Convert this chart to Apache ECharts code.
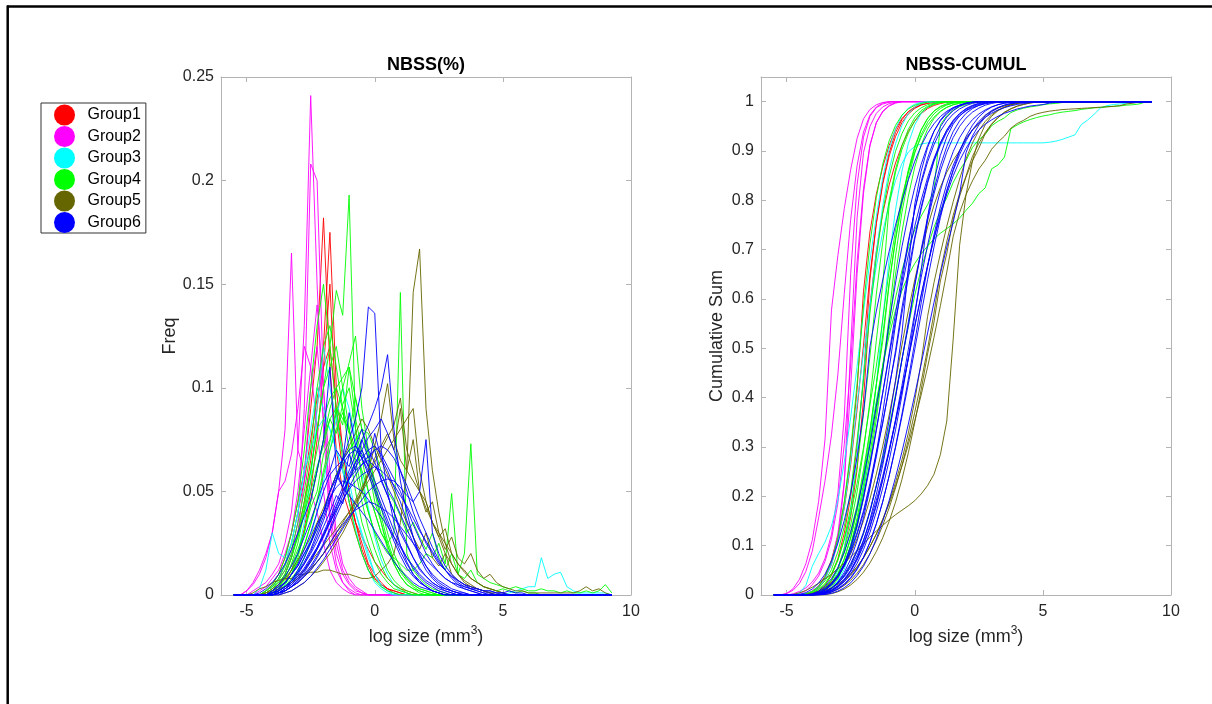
<!DOCTYPE html>
<html>
<head>
<meta charset="utf-8">
<script src="https://cdn.jsdelivr.net/npm/echarts@6/dist/echarts.min.js"></script>
<style>
html,body{margin:0;padding:0;background:#fff;}
#chart{width:1212px;height:704px;}
</style>
</head>
<body>
<div id="chart"></div>
<script>
// ---- DATA ----
// size bins (log size, mm^3); bins after a curve's listed values hold zero frequency
const xGrid = [-5.5,-5.25,-5,-4.75,-4.5,-4.25,-4,-3.75,-3.5,-3.25,-3,-2.75,-2.5,-2.25,-2,-1.75,-1.5,-1.25,-1,-0.75,-0.5,-0.25,0,0.25,0.5,0.75,1,1.25,1.5,1.75,2,2.25,2.5,2.75,3,3.25,3.5,3.75,4,4.25,4.5,4.75,5,5.25,5.5,5.75,6,6.25,6.5,6.75,7,7.25,7.5,7.75,8,8.25,8.5,8.75,9,9.25];

const groupNames = ['Group1','Group2','Group3','Group4','Group5','Group6'];

const group1Freq = [
  [0,0,0,0,0,0.002,0.005,0.01,0.018,0.03,0.045,0.06,0.09,0.12,0.182,0.11,0.07,0.05,0.04,0.03,0.02,0.012,0.008,0.005,0.003,0.002,0.001],
  [0,0,0,0,0,0,0.002,0.005,0.01,0.018,0.03,0.045,0.065,0.09,0.12,0.175,0.1,0.07,0.05,0.035,0.025,0.015,0.01,0.006,0.003,0.002,0.001],
  [0,0,0,0,0,0.002,0.004,0.008,0.015,0.025,0.04,0.055,0.075,0.095,0.11,0.12,0.09,0.07,0.05,0.035,0.022,0.014,0.008,0.005,0.003,0.001],
  [0,0,0,0,0,0,0.001,0.003,0.006,0.012,0.02,0.032,0.05,0.075,0.11,0.15,0.085,0.06,0.045,0.035,0.028,0.022,0.016,0.012,0.008,0.005,0.003,0.002,0.001]
];

const group2Freq = [
  [0,0,0,0.002,0.004,0.006,0.01,0.015,0.025,0.04,0.07,0.13,0.241,0.15,0.08,0.035,0.015,0.006,0.003,0.001],
  [0,0,0,0,0,0.002,0.004,0.008,0.012,0.02,0.035,0.09,0.208,0.2,0.1,0.04,0.02,0.01,0.005,0.002,0.001],
  [0,0,0.002,0.006,0.012,0.02,0.03,0.05,0.08,0.165,0.07,0.06,0.05,0.04,0.025,0.012,0.006,0.003,0.001],
  [0,0,0.002,0.005,0.01,0.018,0.03,0.05,0.055,0.068,0.09,0.12,0.11,0.08,0.05,0.025,0.012,0.006,0.002],
  [0,0,0,0,0.002,0.004,0.008,0.012,0.02,0.03,0.05,0.08,0.11,0.14,0.1,0.06,0.03,0.015,0.008,0.004,0.002],
  [0,0,0,0,0,0,0.002,0.005,0.01,0.018,0.03,0.055,0.1,0.12,0.085,0.05,0.025,0.012,0.006,0.003,0.001]
];

const group3Freq = [
  [0,0,0,0,0,0.002,0.004,0.008,0.015,0.025,0.04,0.06,0.08,0.1,0.09,0.08,0.07,0.06,0.05,0.04,0.03,0.02,0.01,0.004,0.002,0,0,0,0,0,0,0,0,0,0,0,0,0,0,0,0,0,0,0.001,0.002,0.003,0.004,0.004,0.018,0.008,0.01,0.011,0.004,0.002,0.001,0.001,0.001,0.001,0.001],
  [0,0,0,0,0,0,0,0.002,0.005,0.01,0.02,0.035,0.055,0.09,0.12,0.1,0.085,0.07,0.055,0.04,0.028,0.018,0.01,0.005,0.002,0.001],
  [0,0,0,0,0.003,0.012,0.03,0.02,0.018,0.025,0.04,0.06,0.07,0.08,0.085,0.08,0.07,0.06,0.045,0.032,0.02,0.012,0.006,0.003,0.001],
  [0,0,0,0,0,0,0,0.001,0.003,0.006,0.011,0.018,0.028,0.04,0.055,0.07,0.085,0.1,0.09,0.075,0.058,0.042,0.028,0.017,0.01,0.005,0.002,0.001]
];

const group4Freq = [
  [0,0,0,0,0,0,0.002,0.005,0.01,0.018,0.03,0.045,0.06,0.08,0.1,0.12,0.147,0.135,0.193,0.08,0.055,0.04,0.03,0.02,0.012,0.007,0.004,0.002,0.001],
  [0,0,0,0,0,0,0,0.002,0.005,0.01,0.018,0.03,0.045,0.06,0.075,0.085,0.09,0.085,0.08,0.07,0.06,0.05,0.04,0.03,0.025,0.03,0.146,0.02,0.012,0.008,0.005,0.003,0.002,0.001],
  [0,0,0,0,0,0,0.002,0.004,0.008,0.015,0.025,0.04,0.055,0.07,0.085,0.095,0.1,0.09,0.08,0.065,0.05,0.04,0.03,0.025,0.02,0.018,0.015,0.012,0.012,0.015,0.02,0.018,0.025,0.015,0.049,0.01,0.02,0.073,0.01,0.008,0.006,0.005,0.004,0.003,0.004,0.003,0.002,0.002,0.003,0.002,0.002,0.001,0.002,0.001,0.001,0.002,0.001,0.002,0.005,0.001],
  [0,0,0,0,0,0.002,0.004,0.008,0.014,0.022,0.035,0.05,0.07,0.1,0.12,0.13,0.11,0.09,0.07,0.05,0.035,0.025,0.016,0.01,0.006,0.003,0.002,0.001],
  [0,0,0,0,0,0,0.002,0.004,0.007,0.012,0.02,0.03,0.045,0.06,0.075,0.09,0.1,0.105,0.11,0.095,0.08,0.065,0.05,0.035,0.024,0.015,0.009,0.005,0.003,0.002,0.001],
  [0,0,0,0,0,0.002,0.005,0.01,0.018,0.03,0.045,0.07,0.1,0.13,0.15,0.12,0.09,0.065,0.045,0.03,0.02,0.012,0.007,0.004,0.002,0.001],
  [0,0,0,0,0,0,0,0.002,0.004,0.008,0.012,0.018,0.025,0.032,0.04,0.05,0.058,0.065,0.07,0.075,0.08,0.078,0.07,0.06,0.05,0.045,0.038,0.03,0.035,0.028,0.022,0.03,0.018,0.012,0.02,0.01,0.008,0.012,0.006,0.004,0.003,0.002,0.003,0.002,0.001,0.002,0.001,0.001],
  [0,0,0,0,0,0.001,0.003,0.006,0.01,0.018,0.028,0.042,0.06,0.08,0.1,0.11,0.12,0.1,0.08,0.06,0.045,0.032,0.022,0.014,0.008,0.005,0.003,0.001],
  [0,0,0,0,0,0,0.001,0.003,0.006,0.01,0.016,0.024,0.034,0.045,0.058,0.07,0.08,0.088,0.078,0.095,0.08,0.068,0.055,0.042,0.03,0.02,0.013,0.008,0.005,0.003,0.002,0.001],
  [0,0,0,0,0,0,0.002,0.004,0.009,0.014,0.022,0.03,0.042,0.05,0.068,0.075,0.09,0.082,0.11,0.085,0.07,0.062,0.045,0.035,0.022,0.015,0.009,0.005,0.003,0.001],
  [0,0,0,0,0,0.001,0.003,0.007,0.012,0.02,0.028,0.04,0.05,0.062,0.072,0.085,0.078,0.092,0.1,0.08,0.066,0.05,0.04,0.03,0.024,0.016,0.012,0.008,0.005,0.003,0.002,0.001],
  [0,0,0,0,0,0,0.001,0.003,0.006,0.01,0.016,0.024,0.034,0.046,0.06,0.074,0.088,0.1,0.112,0.125,0.09,0.07,0.052,0.038,0.026,0.017,0.011,0.007,0.004,0.002,0.001]
];

const group5Freq = [
  [0,0,0,0.001,0.003,0.004,0.006,0.007,0.008,0.008,0.01,0.01,0.011,0.011,0.012,0.012,0.011,0.01,0.01,0.009,0.008,0.008,0.009,0.012,0.015,0.02,0.035,0.06,0.146,0.167,0.09,0.06,0.04,0.025,0.015,0.01,0.006,0.004,0.003,0.002,0.001],
  [0,0,0,0,0,0.001,0.002,0.003,0.004,0.006,0.008,0.01,0.013,0.016,0.02,0.024,0.028,0.033,0.038,0.044,0.05,0.06,0.072,0.085,0.102,0.075,0.065,0.06,0.055,0.05,0.045,0.035,0.028,0.02,0.015,0.01,0.007,0.005,0.003,0.002,0.001,0.001],
  [0,0,0,0,0,0,0.001,0.002,0.004,0.006,0.009,0.012,0.016,0.02,0.024,0.028,0.032,0.036,0.04,0.045,0.05,0.055,0.06,0.065,0.07,0.075,0.08,0.085,0.09,0.06,0.045,0.035,0.03,0.022,0.028,0.018,0.015,0.02,0.012,0.008,0.01,0.006,0.004,0.003,0.002,0.002,0.001,0.001,0.001,0.001,0.001,0.001,0.001,0.001,0.002,0.004,0.002,0.003,0.001],
  [0,0,0,0,0,0.001,0.003,0.005,0.008,0.012,0.017,0.022,0.028,0.035,0.042,0.05,0.058,0.065,0.072,0.078,0.085,0.08,0.072,0.065,0.058,0.05,0.042,0.035,0.028,0.022,0.03,0.018,0.014,0.02,0.01,0.007,0.005,0.004,0.003,0.002,0.001],
  [0,0,0,0,0,0,0,0.001,0.002,0.004,0.006,0.009,0.012,0.016,0.02,0.025,0.03,0.035,0.04,0.046,0.052,0.058,0.064,0.07,0.076,0.082,0.095,0.07,0.06,0.05,0.04,0.045,0.03,0.025,0.02,0.015,0.012,0.008,0.006,0.004,0.003,0.002,0.001],
  [0,0,0,0,0,0,0,0,0.001,0.002,0.004,0.006,0.009,0.012,0.016,0.02,0.025,0.03,0.036,0.042,0.05,0.058,0.066,0.072,0.078,0.07,0.09,0.06,0.075,0.05,0.042,0.035,0.028,0.032,0.02,0.015,0.011,0.008,0.006,0.004,0.003,0.002,0.001]
];

const group6Freq = [
  [0,0,0,0,0,0,0.001,0.002,0.004,0.007,0.011,0.016,0.022,0.03,0.038,0.046,0.055,0.065,0.075,0.085,0.1,0.139,0.136,0.07,0.05,0.035,0.024,0.016,0.01,0.006,0.004,0.002,0.001],
  [0,0,0,0,0,0,0,0.001,0.003,0.005,0.008,0.012,0.017,0.023,0.03,0.037,0.045,0.052,0.06,0.067,0.075,0.082,0.09,0.1,0.116,0.08,0.055,0.04,0.028,0.018,0.012,0.008,0.005,0.003,0.002,0.001],
  [0,0,0,0,0,0,0,0.001,0.002,0.004,0.007,0.011,0.016,0.022,0.029,0.036,0.043,0.05,0.056,0.06,0.063,0.065,0.062,0.058,0.052,0.046,0.039,0.032,0.025,0.019,0.014,0.01,0.007,0.005,0.003,0.002,0.001],
  [0,0,0,0,0,0,0.002,0.004,0.006,0.01,0.014,0.02,0.025,0.034,0.04,0.05,0.058,0.052,0.068,0.06,0.075,0.066,0.07,0.055,0.048,0.04,0.03,0.024,0.018,0.012,0.009,0.006,0.004,0.003,0.002,0.001,0.001],
  [0,0,0,0,0,0,0.001,0.002,0.004,0.007,0.012,0.018,0.025,0.032,0.04,0.047,0.052,0.055,0.054,0.052,0.05,0.046,0.042,0.038,0.033,0.028,0.023,0.018,0.014,0.01,0.007,0.005,0.003,0.002,0.001],
  [0,0,0,0,0,0,0,0.001,0.002,0.004,0.007,0.01,0.014,0.019,0.025,0.032,0.04,0.048,0.056,0.064,0.07,0.076,0.08,0.085,0.078,0.07,0.06,0.05,0.04,0.032,0.025,0.02,0.015,0.012,0.009,0.007,0.005,0.004,0.003,0.002,0.002,0.001,0.001],
  [0,0,0,0,0.001,0.003,0.006,0.01,0.015,0.022,0.03,0.038,0.046,0.06,0.075,0.11,0.06,0.052,0.048,0.044,0.04,0.036,0.031,0.026,0.021,0.016,0.012,0.009,0.006,0.004,0.003,0.002,0.001],
  [0,0,0,0,0,0,0.001,0.002,0.004,0.006,0.009,0.013,0.018,0.023,0.029,0.035,0.041,0.046,0.051,0.055,0.058,0.06,0.062,0.06,0.057,0.053,0.048,0.043,0.037,0.031,0.026,0.021,0.016,0.012,0.009,0.006,0.004,0.003,0.002,0.001,0.001],
  [0,0,0,0,0,0,0,0.001,0.003,0.006,0.01,0.015,0.021,0.028,0.036,0.045,0.055,0.063,0.068,0.07,0.066,0.06,0.052,0.044,0.036,0.028,0.021,0.015,0.01,0.007,0.004,0.002,0.001],
  [0,0,0,0,0,0,0,0.001,0.002,0.004,0.006,0.009,0.012,0.016,0.02,0.025,0.03,0.034,0.038,0.041,0.043,0.045,0.044,0.042,0.04,0.037,0.033,0.029,0.025,0.021,0.017,0.014,0.011,0.008,0.006,0.005,0.004,0.003,0.003,0.002,0.002,0.001,0.001,0.002,0.001,0.001],
  [0,0,0,0,0,0,0,0,0.001,0.002,0.004,0.006,0.009,0.013,0.017,0.022,0.027,0.032,0.037,0.042,0.046,0.05,0.053,0.055,0.056,0.055,0.052,0.048,0.045,0.05,0.075,0.03,0.02,0.014,0.01,0.007,0.005,0.003,0.002,0.001],
  [0,0,0,0,0,0,0.001,0.003,0.006,0.01,0.015,0.022,0.03,0.04,0.05,0.058,0.062,0.065,0.07,0.072,0.068,0.062,0.055,0.047,0.039,0.031,0.024,0.018,0.013,0.009,0.006,0.004,0.002,0.001],
  [0,0,0,0,0,0,0,0.002,0.004,0.007,0.011,0.015,0.02,0.026,0.033,0.04,0.048,0.044,0.058,0.064,0.07,0.062,0.078,0.066,0.06,0.052,0.045,0.036,0.028,0.02,0.014,0.009,0.006,0.004,0.002,0.001],
  [0,0,0,0,0,0,0.001,0.003,0.006,0.01,0.014,0.02,0.026,0.034,0.04,0.05,0.056,0.066,0.062,0.072,0.08,0.07,0.064,0.056,0.048,0.04,0.032,0.025,0.018,0.013,0.009,0.006,0.004,0.002,0.001],
  [0,0,0,0,0,0,0,0.001,0.003,0.005,0.008,0.012,0.017,0.022,0.028,0.035,0.042,0.05,0.056,0.062,0.066,0.07,0.072,0.068,0.062,0.056,0.05,0.042,0.034,0.027,0.02,0.015,0.011,0.008,0.006,0.004,0.003,0.002,0.001],
  [0,0,0,0,0,0,0.002,0.005,0.009,0.014,0.02,0.028,0.036,0.045,0.054,0.06,0.07,0.065,0.088,0.072,0.066,0.058,0.05,0.042,0.034,0.026,0.019,0.013,0.009,0.006,0.004,0.002,0.001],
  [0,0,0,0,0,0,0,0,0.002,0.004,0.006,0.009,0.013,0.018,0.024,0.031,0.038,0.045,0.052,0.058,0.063,0.067,0.07,0.072,0.07,0.066,0.06,0.053,0.045,0.037,0.03,0.023,0.017,0.012,0.008,0.005,0.003,0.002,0.001]
];

const xTickValues = [-5, 0, 5, 10];
const freqTickValues = [0, 0.05, 0.1, 0.15, 0.2, 0.25];
const cumTickValues = [0, 0.1, 0.2, 0.3, 0.4, 0.5, 0.6, 0.7, 0.8, 0.9, 1];

// ---- STYLE ----
const groupFreqs = [group1Freq, group2Freq, group3Freq, group4Freq, group5Freq, group6Freq];
const groupColors = ['#ff0000', '#ff00ff', '#00ffff', '#00ff00', '#666600', '#0000ff'];
const FONT = '"Liberation Sans", Arial, Helvetica, sans-serif';
const AXIS_GREY = '#b4b4b4';
const TEXT = '#262626';

function freqPoints(vals) {
  return xGrid.map((x, i) => [x, i < vals.length ? vals[i] : 0]);
}
function cumulPoints(vals) {
  const total = vals.reduce((a, b) => a + b, 0);
  let run = 0;
  return xGrid.map((x, i) => {
    run += (i < vals.length ? vals[i] : 0);
    return [x, run / total];
  });
}

function xAxisCfg(gridIndex, position, withLabels) {
  return {
    type: 'value', gridIndex: gridIndex, position: position, min: -6, max: 10,
    axisLine: { show: true, onZero: false, lineStyle: { color: AXIS_GREY, width: 1 } },
    axisTick: { show: true, inside: true, length: 5, customValues: xTickValues, lineStyle: { color: AXIS_GREY } },
    axisLabel: { show: withLabels, customValues: xTickValues, margin: 9, fontSize: 16, fontFamily: FONT, color: TEXT },
    splitLine: { show: false },
    name: withLabels ? '{a|log size (mm}{s|3}{a|)}' : '',
    nameLocation: 'middle', nameGap: 29,
    nameTextStyle: {
      rich: {
        a: { fontSize: 18, fontFamily: FONT, color: TEXT, lineHeight: 24 },
        s: { fontSize: 12, fontFamily: FONT, color: TEXT, lineHeight: 12, verticalAlign: 'top' }
      }
    }
  };
}
function yAxisCfg(gridIndex, position, withLabels, max, ticks, name, gap) {
  return {
    type: 'value', gridIndex: gridIndex, position: position, min: 0, max: max,
    axisLine: { show: true, onZero: false, lineStyle: { color: AXIS_GREY, width: 1 } },
    axisTick: { show: true, inside: true, length: 5, customValues: ticks, lineStyle: { color: AXIS_GREY } },
    axisLabel: { show: withLabels, customValues: ticks, margin: 7, fontSize: 16, fontFamily: FONT, color: TEXT },
    splitLine: { show: false },
    name: withLabels ? name : '',
    nameLocation: 'middle', nameGap: gap,
    nameTextStyle: { fontSize: 18, fontFamily: FONT, color: TEXT }
  };
}

const series = [];
[0, 2].forEach(axisIdx => {
  groupFreqs.forEach((curves, g) => {
    curves.forEach(vals => {
      series.push({
        type: 'line', name: groupNames[g], xAxisIndex: axisIdx, yAxisIndex: axisIdx,
        data: axisIdx === 0 ? freqPoints(vals) : cumulPoints(vals),
        symbol: 'none', silent: true,
        lineStyle: { width: 1, color: groupColors[g], opacity: 0.9 },
        itemStyle: { color: groupColors[g] }
      });
    });
  });
});

const chart = echarts.init(document.getElementById('chart'), null, { renderer: 'canvas' });
chart.setOption({
  backgroundColor: '#ffffff',
  animation: false,
  grid: [
    { left: 221, top: 77, width: 410, height: 518, containLabel: false },
    { left: 761, top: 77, width: 410, height: 518, containLabel: false }
  ],
  xAxis: [
    xAxisCfg(0, 'bottom', true),
    xAxisCfg(0, 'top', false),
    xAxisCfg(1, 'bottom', true),
    xAxisCfg(1, 'top', false)
  ],
  yAxis: [
    yAxisCfg(0, 'left', true, 0.25, freqTickValues, 'Freq', 41),
    yAxisCfg(0, 'right', false, 0.25, freqTickValues, '', 0),
    yAxisCfg(1, 'left', true, 1.05, cumTickValues, 'Cumulative Sum', 35),
    yAxisCfg(1, 'right', false, 1.05, cumTickValues, '', 0)
  ],
  legend: {
    data: groupNames, orient: 'vertical', left: 41, top: 103,
    icon: 'circle', itemWidth: 36, itemHeight: 21, itemGap: 0.5,
    padding: [1.5, 5, 0, 13], borderColor: '#333', borderWidth: 1, backgroundColor: '#fff',
    selectedMode: false,
    textStyle: { fontSize: 16, fontFamily: FONT, color: '#000' }
  },
  graphic: [
    { type: 'line', shape: { x1: 7, y1: 6.5, x2: 1212, y2: 6.5 }, style: { stroke: '#000', lineWidth: 2.5 } },
    { type: 'line', shape: { x1: 7.7, y1: 5.5, x2: 7.7, y2: 704 }, style: { stroke: '#000', lineWidth: 2.5 } },
    { type: 'text', x: 426, y: 65.5, style: { text: 'NBSS(%)', fontSize: 18, fontWeight: 'bold', fontFamily: FONT, fill: '#000', align: 'center', verticalAlign: 'middle' } },
    { type: 'text', x: 966, y: 65.5, style: { text: 'NBSS-CUMUL', fontSize: 18, fontWeight: 'bold', fontFamily: FONT, fill: '#000', align: 'center', verticalAlign: 'middle' } }
  ],
  series: series
});
</script>
</body>
</html>
